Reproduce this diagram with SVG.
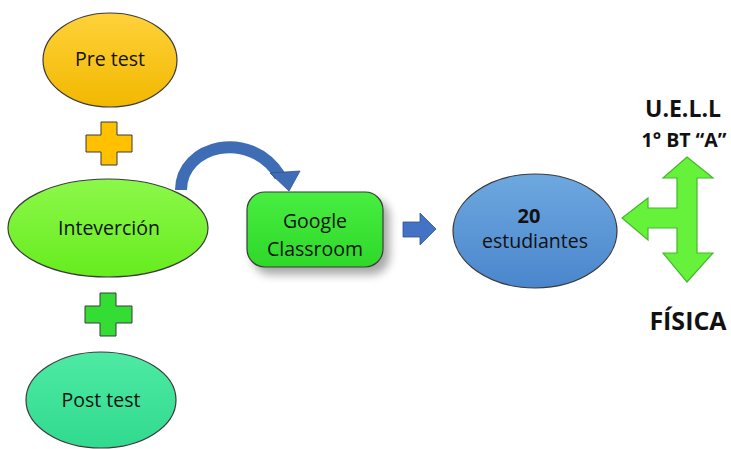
<svg xmlns="http://www.w3.org/2000/svg" width="731" height="449" viewBox="0 0 731 449">
<defs>
<linearGradient id="gY" x1="0" y1="0" x2="0" y2="1"><stop offset="0" stop-color="#FFD23A"/><stop offset="1" stop-color="#F2B800"/></linearGradient>
<linearGradient id="gG" x1="0" y1="0" x2="0" y2="1"><stop offset="0" stop-color="#8CF84A"/><stop offset="1" stop-color="#66EC1E"/></linearGradient>
<linearGradient id="gC" x1="0" y1="0" x2="0" y2="1"><stop offset="0" stop-color="#48EE40"/><stop offset="1" stop-color="#2ED82A"/></linearGradient>
<linearGradient id="gB" x1="0" y1="0" x2="0" y2="1"><stop offset="0" stop-color="#6EA8E0"/><stop offset="1" stop-color="#4A86CC"/></linearGradient>
<linearGradient id="gT" x1="0" y1="0" x2="0" y2="1"><stop offset="0" stop-color="#4EEAA4"/><stop offset="1" stop-color="#30DA8E"/></linearGradient>
<filter id="sh" x="-20%" y="-20%" width="150%" height="160%"><feGaussianBlur in="SourceAlpha" stdDeviation="5"/><feOffset dx="6" dy="7"/><feComponentTransfer><feFuncA type="linear" slope="0.35"/></feComponentTransfer><feMerge><feMergeNode/><feMergeNode in="SourceGraphic"/></feMerge></filter>
</defs>
<style>
.node{stroke:#3a3a3a;stroke-width:1.2}
.t{font-family:"Open Sans","Noto Sans","DejaVu Sans",sans-serif;font-size:19.5px;fill:#111;text-anchor:middle}
.b{font-family:"Open Sans","Noto Sans","DejaVu Sans",sans-serif;font-weight:bold;fill:#111;text-anchor:middle}
.plus{stroke:#3a3a3a;stroke-width:1}
</style>
<rect width="731" height="449" fill="#fff"/>
<g id="pretest">
<ellipse class="node" cx="110" cy="60" rx="67" ry="47" fill="url(#gY)"/>
<text class="t" x="110" y="66">Pre test</text>
</g>
<g id="plus1">
<path class="plus" fill="#FFC000" d="M101,122 h16 v13 h15 v17 h-15 v13 h-16 v-13 h-15 v-17 h15 z"/>
</g>
<g id="intervencion">
<ellipse class="node" cx="108" cy="228" rx="100" ry="49" fill="url(#gG)"/>
<text class="t" x="109" y="235">Inteverción</text>
</g>
<g id="plus2">
<path class="plus" fill="#33DD33" d="M100,293 h16 v13 h16 v17 h-16 v13 h-16 v-13 h-15 v-17 h15 z"/>
</g>
<g id="posttest">
<ellipse class="node" cx="101" cy="400" rx="75" ry="48" fill="url(#gT)"/>
<text class="t" x="101" y="407">Post test</text>
</g>
<g id="classroom">
<rect class="node" x="247" y="192" width="136" height="75" rx="18" fill="url(#gC)" filter="url(#sh)"/>
<text class="t" x="315" y="228">Google</text>
<text class="t" x="315" y="256">Classroom</text>
</g>
<g id="estudiantes">
<ellipse class="node" cx="535" cy="231" rx="82" ry="57" fill="url(#gB)"/>
<text class="b" x="529" y="223" font-size="20">20</text>
<text class="t" x="535" y="248">estudiantes</text>
</g>
<g id="uell">
<text class="b" x="683" y="117" font-size="23">U.E.L.L</text>
<text class="b" x="684" y="147" font-size="19.5">1° BT “A”</text>
<text class="b" x="688" y="330" font-size="25">FÍSICA</text>
<path fill="#66F23A" stroke="#44B82A" stroke-width="1.2" d="M687,157 L713,178 L697,178 L697,253 L713,253 L687,282 L663,253 L677,253 L677,228 L648,228 L648,240 L622,218 L648,198 L648,208 L677,208 L677,178 L663,178 Z"/>
</g>
<g id="connectors">
<path d="M181,190 C181,145 250,128 280,176" fill="none" stroke="#3F6DB5" stroke-width="12"/>
<polygon points="270,173 300,171 289,191" fill="#3F6DB5" stroke="#2E5090" stroke-width="0.8"/>
<polygon points="403,222 420,222 420,213 436,229 420,245 420,237 403,237" fill="#4472C4" stroke="#2E5090" stroke-width="0.8"/>
</g>
</svg>
